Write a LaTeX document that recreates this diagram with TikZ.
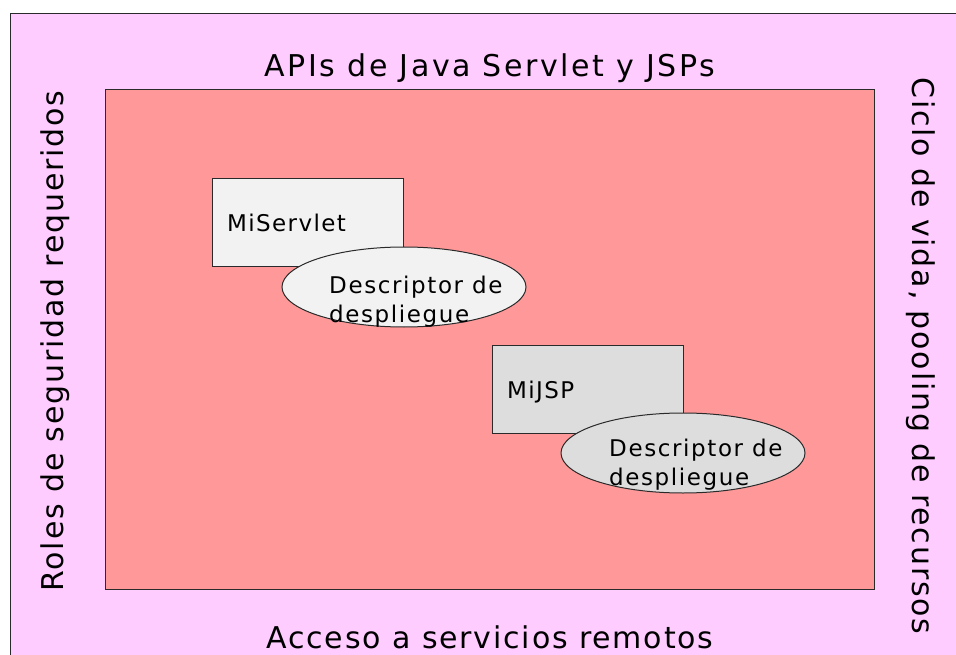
\documentclass[tikz,border=0pt]{standalone}
\usepackage{fontspec}
\setmainfont{DejaVu Sans}[LetterSpace=6]
\usetikzlibrary{shapes.geometric}
\definecolor{outerpink}{HTML}{FFCCFF}
\definecolor{innerred}{HTML}{FF9999}
\definecolor{lightbox}{HTML}{F2F2F2}
\definecolor{midbox}{HTML}{DDDDDD}
\definecolor{edge}{HTML}{2A2A2A}
\begin{document}
\begin{tikzpicture}[x=1pt,y=-1pt,
  frame/.style={draw=edge,line width=1pt},
  sidetext/.style={font=\fontsize{30}{36}\selectfont,inner sep=0pt,anchor=base},
  compbox/.style={frame,rectangle,inner sep=0pt,anchor=north west,
    minimum width=191,minimum height=88},
  descr/.style={frame,ellipse,inner sep=0pt,minimum width=244,minimum height=80},
  boxlabel/.style={font=\fontsize{23}{28}\selectfont,inner sep=0pt,anchor=base west},
  descrlabel/.style={font=\fontsize{23}{28.5}\selectfont\addfontfeatures{LetterSpace=7},
    inner sep=0pt,align=left,anchor=north west}
]
\useasboundingbox (0,0) rectangle (956,655);
% outer container
\fill[outerpink] (10,14) rectangle (956,655);
\draw[frame] (10,655) -- (10,14) -- (956,14);
% inner container
\node[frame,fill=innerred,rectangle,inner sep=0pt,anchor=north west,
  minimum width=769,minimum height=500] (core) at (105,89) {};
% surrounding services
\node[sidetext,font=\fontsize{30}{36}\selectfont\addfontfeatures{LetterSpace=8.5}]
  (apis) at (490,77) {APIs de Java Servlet y JSPs};
\node[sidetext] (remote) at (490,648) {Acceso a servicios remotos};
\node[sidetext,rotate=90] (roles) at (63,341) {Roles de seguridad requeridos};
\node[sidetext,rotate=-90] (cycle) at (912,356) {Ciclo de vida, pooling de recursos};
% servlet component
\node[compbox,fill=lightbox] (servlet) at (212,178) {};
\node[boxlabel] (servletlbl) at (227,232) {MiServlet};
\node[descr,fill=lightbox] (servletdd) at (404,287) {};
\node[descrlabel] (servletddlbl) at (329,276) {Descriptor de\\despliegue};
% jsp component
\node[compbox,fill=midbox] (jsp) at (492,345) {};
\node[boxlabel] (jsplbl) at (507,398) {MiJSP};
\node[descr,fill=midbox] (jspdd) at (683,453) {};
\node[descrlabel] (jspddlbl) at (609,439) {Descriptor de\\despliegue};
\end{tikzpicture}
\end{document}
